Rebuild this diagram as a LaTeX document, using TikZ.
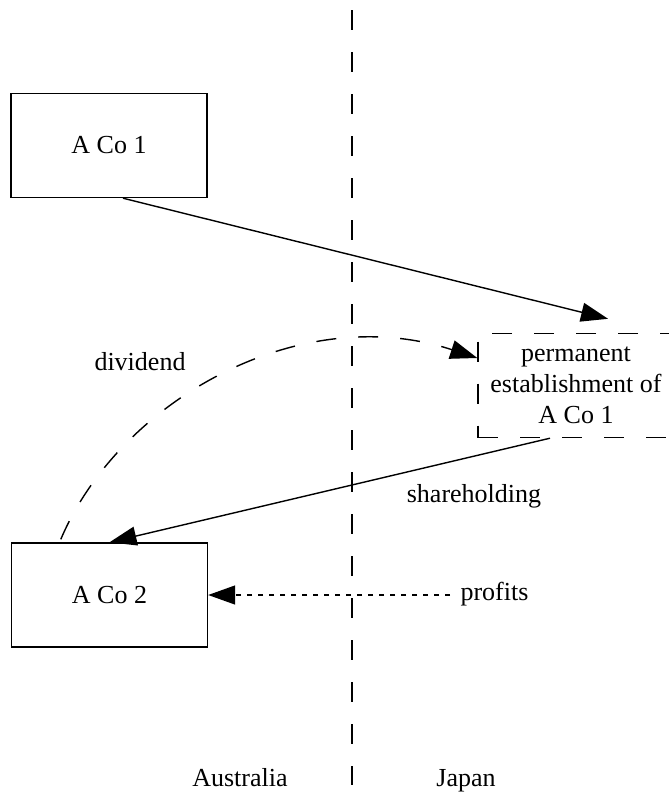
\documentclass[tikz,border=0pt]{standalone}
\usepackage{fontspec}
\setmainfont{Liberation Serif}
\usetikzlibrary{arrows.meta}

\begin{document}
\begin{tikzpicture}[x=1pt,y=-1pt,
  every node/.style={font=\fontsize{26}{31}\selectfont},
  entity/.style={draw, line width=1.4pt, minimum width=196pt, minimum height=104pt, inner sep=0pt},
  link/.style={line width=1.4pt, -{Triangle[length=27pt,width=19pt]}},
  longdash/.style={dash pattern=on 20pt off 22pt},
  shortdash/.style={dash pattern=on 5pt off 6pt},
  lbl/.style={inner sep=0pt, anchor=base}
]
\useasboundingbox (0,0) rectangle (669,793);

% border between the two countries
\draw[line width=1.4pt, longdash] (352,10) -- (352,785);

% companies and the permanent establishment
\node[entity] (aco1) at (109,145.5) {A Co 1};
\node[entity] (aco2) at (109.5,595) {A Co 2};
\node[entity, longdash, align=center] (pe) at (576,385.5) {permanent\\establishment of\\A Co 1};

% edge labels and country names
\node[lbl] (div) at (140,370) {dividend};
\node[lbl] (sh) at (474,502) {shareholding};
\node[lbl] (pf) at (494.5,600) {profits};
\node[lbl] (au) at (240,786) {Australia};
\node[lbl] (jp) at (466,786) {Japan};

% connectors
\draw[link] ([xshift=14pt]aco1.south) -- ([xshift=32pt,yshift=14pt]pe.north);
\draw[link] ([xshift=-26pt]pe.south) -- (aco2.north);
\coordinate (pfend) at (450,595);
\draw[link, shortdash] (pfend) -- (aco2.east);
\draw[link, longdash] ([xshift=50pt,yshift=3pt]aco2.north west)
  .. controls (120,400) and (300,300) .. ([yshift=27.5pt]pe.west);
\end{tikzpicture}
\end{document}
